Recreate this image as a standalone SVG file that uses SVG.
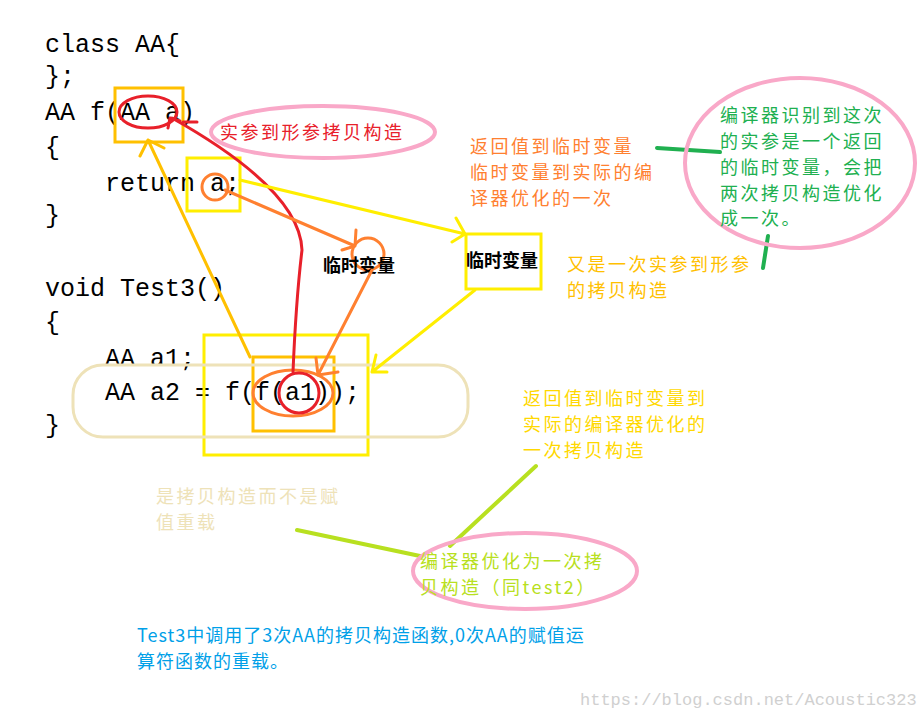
<svg xmlns="http://www.w3.org/2000/svg" width="921" height="719" viewBox="0 0 921 719">
<style>
.code{font-family:"Liberation Mono","DejaVu Sans Mono",monospace;font-size:25px;fill:#000}
.cn{font-family:"Noto Sans CJK SC","Liberation Sans",sans-serif;font-size:18px;letter-spacing:2.5px}
.ln{fill:none;stroke-linecap:round;stroke-linejoin:round}
</style>
<rect width="921" height="719" fill="#fff"/>
<g id="code">
<text class="code" x="45" y="52">class AA{</text>
<text class="code" x="45" y="84">};</text>
<text class="code" x="45" y="120">AA f(AA a)</text>
<text class="code" x="45" y="155">{</text>
<text class="code" x="105" y="191">return a;</text>
<text class="code" x="45" y="223">}</text>
<text class="code" x="45" y="296">void Test3()</text>
<text class="code" x="45" y="330">{</text>
<text class="code" x="105" y="366">AA a1;</text>
<text class="code" x="105" y="400">AA a2 = f(f(a1));</text>
<text class="code" x="45" y="433">}</text>
</g>
<g id="shapes">
<rect x="115" y="88" width="68" height="54" fill="none" stroke="#FFC000" stroke-width="3"/>
<ellipse cx="148" cy="112" rx="29" ry="16" fill="none" stroke="#E8202A" stroke-width="3"/>
<rect x="187" y="158" width="53" height="53" fill="none" stroke="#FFEE00" stroke-width="3"/>
<circle cx="215" cy="187" r="13" fill="none" stroke="#FF8030" stroke-width="3"/>
<rect x="204" y="335" width="164" height="120" fill="none" stroke="#FFEE00" stroke-width="3"/>
<rect x="253" y="357" width="81" height="74" fill="none" stroke="#FFC000" stroke-width="3"/>
<rect x="73" y="365" width="395" height="72" rx="30" fill="none" stroke="#EEE2B8" stroke-width="3"/>
<ellipse cx="293" cy="393" rx="40" ry="23" fill="none" stroke="#FF8030" stroke-width="3"/>
<ellipse cx="299" cy="393" rx="20" ry="20" fill="none" stroke="#E8202A" stroke-width="3"/>
<circle cx="368" cy="254" r="16" fill="none" stroke="#FF8030" stroke-width="3"/>
</g>
<g id="node-shican">
<ellipse cx="323" cy="132" rx="112" ry="26" fill="none" stroke="#F9A8C8" stroke-width="4"/>
<text class="cn" x="220" y="139" fill="#E8202A">实参到形参拷贝构造</text>
</g>
<g id="node-temp1"><text class="cn" x="323" y="272" fill="#000" font-weight="bold" style="letter-spacing:0">临时变量</text></g>
<g id="node-temp2">
<rect x="466" y="234" width="75" height="55" fill="none" stroke="#FFEE00" stroke-width="3"/>
<text class="cn" x="466" y="267" fill="#000" font-weight="bold" style="letter-spacing:0">临时变量</text>
</g>
<g id="connectors">
<path class="ln" d="M250 357 L148 140 M140 156 L148 140 L164 148" stroke="#FFC000" stroke-width="3"/>
<path class="ln" d="M293 372 Q296 300 302 250 Q300 190 172 118 M168 128 L170 118 L180 121" stroke="#E8202A" stroke-width="3"/>
<path class="ln" d="M183 122 L197 122" stroke="#E8202A" stroke-width="3"/>
<path class="ln" d="M225 190 L355 246 M356 230 L355 246 L342 250" stroke="#FF8030" stroke-width="3"/>
<path class="ln" d="M372 270 L318 375 M316 358 L318 375 L338 372" stroke="#FF8030" stroke-width="3"/>
<path class="ln" d="M240 180 L465 234 M456 218 L465 234 L452 242" stroke="#FFEE00" stroke-width="3"/>
<path class="ln" d="M475 290 L372 372 M376 355 L372 372 L387 372" stroke="#FFEE00" stroke-width="3"/>
<path class="ln" d="M657 148 L720 152 M768 236 L763 268" stroke="#20B050" stroke-width="4"/>
<path class="ln" d="M536 466 L450 546 M297 530 L420 556" stroke="#B8E020" stroke-width="4"/>
</g>
<g id="node-orange-note" class="cn" fill="#FF8030">
<text x="470" y="153">返回值到临时变量</text>
<text x="470" y="179">临时变量到实际的编</text>
<text x="470" y="205">译器优化的一次</text>
</g>
<g id="node-green-note">
<ellipse cx="800" cy="163" rx="115" ry="85" fill="none" stroke="#F9A8C8" stroke-width="4"/>
<g class="cn" fill="#20B050">
<text x="720" y="122">编译器识别到这次</text>
<text x="720" y="148">的实参是一个返回</text>
<text x="720" y="174">的临时变量，会把</text>
<text x="720" y="200">两次拷贝构造优化</text>
<text x="720" y="225">成一次。</text>
</g>
</g>
<g id="node-yellow-note1" class="cn" fill="#FFC000">
<text x="567" y="271">又是一次实参到形参</text>
<text x="567" y="297">的拷贝构造</text>
</g>
<g id="node-yellow-note2" class="cn" fill="#FFD800">
<text x="523" y="405">返回值到临时变量到</text>
<text x="523" y="431">实际的编译器优化的</text>
<text x="523" y="457">一次拷贝构造</text>
</g>
<g id="node-beige-note" class="cn" fill="#EEE2B8">
<text x="156" y="503">是拷贝构造而不是赋</text>
<text x="156" y="529">值重载</text>
</g>
<g id="node-opt">
<ellipse cx="525" cy="571" rx="112" ry="38" fill="none" stroke="#F9A8C8" stroke-width="4"/>
<g class="cn" fill="#B8E020">
<text x="420" y="568">编译器优化为一次拷</text>
<text x="420" y="594">贝构造（同test2）</text>
</g>
</g>
<g id="node-summary" class="cn" fill="#00A0E8" style="letter-spacing:1px">
<text x="137" y="642">Test3中调用了3次AA的拷贝构造函数,0次AA的赋值运</text>
<text x="137" y="668">算符函数的重载。</text>
</g>
<text x="580" y="705" font-family="Liberation Mono,monospace" font-size="17" fill="#D0D0D0">https://blog.csdn.net/Acoustic323</text>
</svg>
